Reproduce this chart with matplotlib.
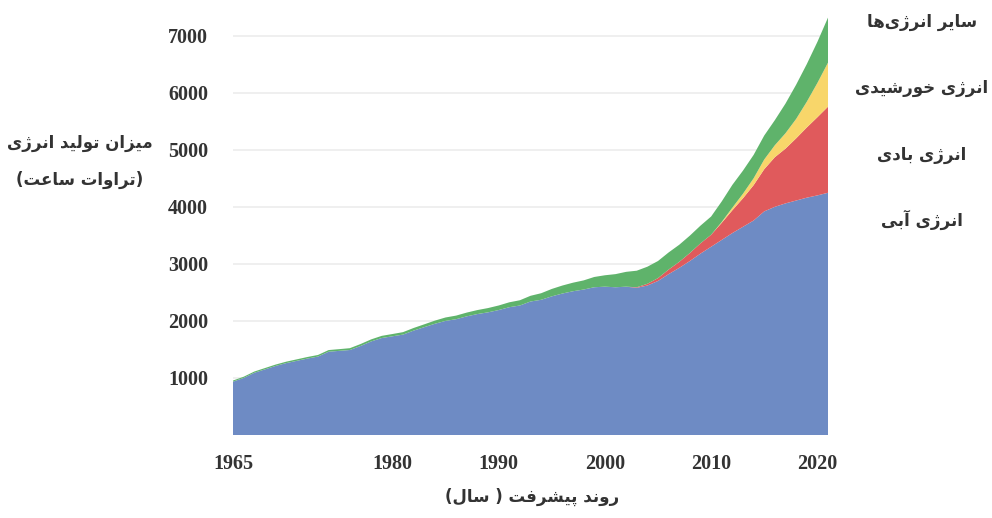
import numpy as np
import matplotlib
matplotlib.use("Agg")
import matplotlib.pyplot as plt

# --- data (TWh per year) ---
years = np.arange(1965, 2022)

hydro = [935, 1000, 1090, 1150, 1210, 1260, 1300, 1340, 1375, 1460,
         1475, 1490, 1560, 1640, 1700, 1730, 1760, 1830, 1890, 1950,
         2000, 2030, 2080, 2120, 2150, 2190, 2240, 2270, 2340, 2370,
         2430, 2480, 2520, 2550, 2590, 2600, 2590, 2600, 2580, 2620,
         2700, 2820, 2930, 3050, 3180, 3300, 3420, 3540, 3650, 3760,
         3920, 4000, 4060, 4110, 4160, 4200, 4246]

wind = [0] * 38 + [10, 30, 50, 80, 105, 140, 180, 210, 300, 400,
                   500, 620, 740, 870, 960, 1090, 1230, 1370, 1509]

solar = [0] * 46 + [15, 45, 80, 120, 170, 210, 270, 340, 450, 600, 772]

other = [20, 21, 22, 23, 24, 25, 26, 27, 28, 29,
         30, 32, 34, 36, 38, 40, 43, 46, 50, 55,
         60, 63, 66, 70, 75, 80, 86, 92, 100, 115,
         130, 140, 150, 160, 180, 200, 230, 260, 290, 300,
         300, 300, 300, 305, 310, 320, 360, 400, 405, 410,
         420, 440, 520, 600, 660, 720, 790]

labels = ["انرژی آبی", "انرژی بادی", "انرژی خورشیدی", "سایر انرژی‌ها"]
colors = ["#6e8bc4", "#e05a5c", "#f8d66a", "#5fb36b"]

yticks = [1000, 2000, 3000, 4000, 5000, 6000, 7000]
xticks = [1965, 1980, 1990, 2000, 2010, 2020]

ylabel_lines = ["میزان تولید انرژی", "(تراوات ساعت)"]
xlabel = "روند پیشرفت ( سال)"


# --- tiny persian shaper: matplotlib does no arabic shaping / bidi ---
# (isolated, final, initial, medial)
FORMS = {
    'ا': ('\uFE8D', '\uFE8E', None, None),
    'آ': ('\uFE81', '\uFE82', None, None),
    'ب': ('\uFE8F', '\uFE90', '\uFE91', '\uFE92'),
    'پ': ('\uFB56', '\uFB57', '\uFB58', '\uFB59'),
    'ت': ('\uFE95', '\uFE96', '\uFE97', '\uFE98'),
    'خ': ('\uFEA5', '\uFEA6', '\uFEA7', '\uFEA8'),
    'د': ('\uFEA9', '\uFEAA', None, None),
    'ر': ('\uFEAD', '\uFEAE', None, None),
    'ز': ('\uFEAF', '\uFEB0', None, None),
    'ژ': ('\uFB8A', '\uFB8B', None, None),
    'س': ('\uFEB1', '\uFEB2', '\uFEB3', '\uFEB4'),
    'ش': ('\uFEB5', '\uFEB6', '\uFEB7', '\uFEB8'),
    'ع': ('\uFEC9', '\uFECA', '\uFECB', '\uFECC'),
    'ف': ('\uFED1', '\uFED2', '\uFED3', '\uFED4'),
    'ل': ('\uFEDD', '\uFEDE', '\uFEDF', '\uFEE0'),
    'م': ('\uFEE1', '\uFEE2', '\uFEE3', '\uFEE4'),
    'ن': ('\uFEE5', '\uFEE6', '\uFEE7', '\uFEE8'),
    'ه': ('\uFEE9', '\uFEEA', '\uFEEB', '\uFEEC'),
    'و': ('\uFEED', '\uFEEE', None, None),
    'ی': ('\uFBFC', '\uFBFD', '\uFBFE', '\uFBFF'),
}
LAM_ALEF = {'ا': ('\uFEFB', '\uFEFC'), 'آ': ('\uFEF5', '\uFEF6')}


def joins_next(c):
    return c in FORMS and FORMS[c][2] is not None


def fa(text):
    out = []
    n = len(text)
    i = 0
    while i < n:
        c = text[i]
        if c not in FORMS:
            if c != '\u200c':
                out.append(c)
            i += 1
            continue
        prev = text[i - 1] if i > 0 else None
        jp = prev is not None and joins_next(prev)
        if c == 'ل' and i + 1 < n and text[i + 1] in LAM_ALEF:
            lig = LAM_ALEF[text[i + 1]]
            out.append(lig[1] if jp else lig[0])
            i += 2
            continue
        nxt = text[i + 1] if i + 1 < n else None
        jn = joins_next(c) and nxt is not None and nxt in FORMS
        iso, fin, ini, med = FORMS[c]
        if jp and jn:
            out.append(med)
        elif jp:
            out.append(fin)
        elif jn:
            out.append(ini)
        else:
            out.append(iso)
        i += 1
    mirror = {'(': ')', ')': '('}
    return ''.join(mirror.get(ch, ch) for ch in reversed(out))


W, H = 992, 518
fig = plt.figure(figsize=(W / 100, H / 100), dpi=100)
ax = fig.add_axes([233 / W, 1 - 435 / H, 595 / W, 425 / H])

ax.stackplot(years, hydro, wind, solar, other, colors=colors, linewidth=0, zorder=2)

ax.set_xlim(1965, 2021)
ax.set_ylim(0, 7450)
ax.set_yticks(yticks)
ax.set_xticks(xticks)
ax.grid(axis='y', color='#ececec', linewidth=1.2, zorder=0)
for s in ax.spines.values():
    s.set_visible(False)
ax.tick_params(length=0)
ax.tick_params(axis='y', pad=18)
ax.tick_params(axis='x', pad=14)
for t in ax.get_xticklabels() + ax.get_yticklabels():
    t.set_fontfamily('Liberation Serif')
    t.set_fontweight('bold')
    t.set_fontsize(14.5)
    t.set_color('#333333')

pfont = dict(family='DejaVu Sans', fontweight='bold', color='#333333')

fig.text(80 / W, 1 - 143 / H, fa(ylabel_lines[0]), ha='center', va='center', fontsize=12, **pfont)
fig.text(80 / W, 1 - 180 / H, fa(ylabel_lines[1]), ha='center', va='center', fontsize=12, **pfont)
fig.text(532 / W, 1 - 497 / H, fa(xlabel), ha='center', va='center', fontsize=12, **pfont)

# labels of the layers on the right, top layer first
label_y = [220, 155, 88, 22]
for lab, yy in zip(labels, label_y):
    fig.text(922 / W, 1 - yy / H, fa(lab), ha='center', va='center', fontsize=12, **pfont)

fig.savefig("out.png", dpi=100)
